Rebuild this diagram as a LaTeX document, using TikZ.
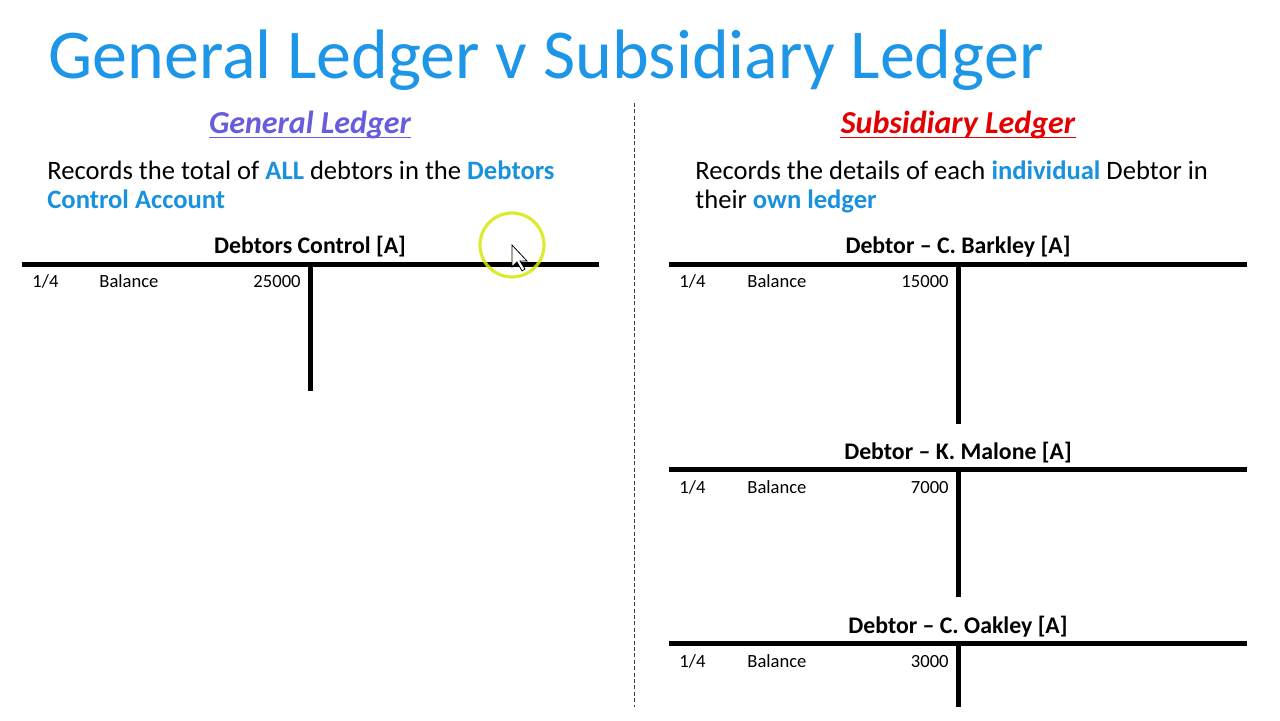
\documentclass[tikz,border=0pt]{standalone}
\usepackage{fontspec}
\setmainfont{Carlito}
\usepackage{xcolor}
\usetikzlibrary{positioning}
\definecolor{titleblue}{RGB}{30,150,232}
\definecolor{keyblue}{RGB}{25,145,222}
\definecolor{genpurple}{RGB}{104,92,222}
\definecolor{subred}{RGB}{228,0,0}

\begin{document}
\begin{tikzpicture}[x=0.5pt,y=-0.5pt,
  tline/.style={line width=2.5pt, black},
  acctitle/.style={font=\fontsize{11.9}{13}\selectfont\bfseries, anchor=base, inner sep=0pt},
  cell/.style={font=\fontsize{9.3}{11}\selectfont, anchor=base west, inner sep=0pt},
  amount/.style={font=\fontsize{9.3}{11}\selectfont, anchor=base east, inner sep=0pt},
  bodytext/.style={font=\fontsize{13.3}{15}\selectfont, anchor=base west, inner sep=0pt},
  sidehead/.style={font=\fontsize{16}{18}\selectfont\bfseries\itshape, anchor=base, inner sep=0pt}]
  \useasboundingbox[fill=white] (0,0) rectangle (1280,720);
  % Slide title
  \node[font=\fontsize{35}{38}\selectfont, text=titleblue, anchor=base west, inner sep=0pt]
    (title) at (48,78) {General Ledger v Subsidiary Ledger};
  % Divider between the two halves
  \coordinate (divtop) at (634,103);
  \coordinate (divbot) at (634,707);
  \draw[gray!50!black, line width=0.5pt, dash pattern=on 2pt off 1.2pt] (divtop) -- (divbot);
  % Left half: general ledger
  \node[sidehead, text=genpurple] (genhead) at (310,133) {General Ledger};
  \draw[genpurple, line width=0.9pt] ([yshift=-2.2pt]genhead.base west) -- ([yshift=-2.2pt]genhead.base east);
  \node[bodytext] (genline1) at (47,179)
    {Records the total of \textcolor{keyblue}{\bfseries ALL} debtors in the \textcolor{keyblue}{\bfseries Debtors}};
  \node[bodytext, text=keyblue, font=\fontsize{13.3}{15}\selectfont\bfseries] (genline2) at (47,208)
    {Control Account};
  % Debtors control T account
  \node[acctitle] (ctltitle) at (310,253) {Debtors Control [A]};
  \coordinate (ctlL) at (22,264);
  \coordinate (ctlR) at (599,264);
  \coordinate (ctlT) at (310,264);
  \coordinate (ctlB) at (310,391);
  \draw[tline] (ctlL) -- (ctlR);
  \draw[tline] (ctlT) -- (ctlB);
  \node[cell] (ctldate) at (32,287) {1/4};
  \node[cell] (ctldesc) at (99,287) {Balance};
  \node[amount] (ctlamt) at (301,287) {25000};
  % Right half: subsidiary ledger
  \node[sidehead, text=subred] (subhead) at (958,133) {Subsidiary Ledger};
  \draw[subred, line width=0.9pt] ([yshift=-2.2pt]subhead.base west) -- ([yshift=-2.2pt]subhead.base east);
  \node[bodytext] (subline1) at (695,179)
    {Records the details of each \textcolor{keyblue}{\bfseries individual} Debtor in};
  \node[bodytext] (subline2) at (695,208)
    {their \textcolor{keyblue}{\bfseries own ledger}};
  % C. Barkley
  \node[acctitle] (bartitle) at (958,253) {Debtor -- C. Barkley [A]};
  \coordinate (barL) at (669,264);
  \coordinate (barR) at (1247,264);
  \coordinate (barT) at (958,264);
  \coordinate (barB) at (958,424);
  \draw[tline] (barL) -- (barR);
  \draw[tline] (barT) -- (barB);
  \node[cell] (bardate) at (679,287) {1/4};
  \node[cell] (bardesc) at (747,287) {Balance};
  \node[amount] (baramt) at (949,287) {15000};
  % K. Malone
  \node[acctitle] (maltitle) at (958,459) {Debtor -- K. Malone [A]};
  \coordinate (malL) at (669,469);
  \coordinate (malR) at (1247,469);
  \coordinate (malT) at (958,469);
  \coordinate (malB) at (958,597);
  \draw[tline] (malL) -- (malR);
  \draw[tline] (malT) -- (malB);
  \node[cell] (maldate) at (679,493) {1/4};
  \node[cell] (maldesc) at (747,493) {Balance};
  \node[amount] (malamt) at (949,493) {7000};
  % C. Oakley
  \node[acctitle] (oaktitle) at (958,633) {Debtor -- C. Oakley [A]};
  \coordinate (oakL) at (669,643);
  \coordinate (oakR) at (1247,643);
  \coordinate (oakT) at (958,643);
  \coordinate (oakB) at (958,707);
  \draw[tline] (oakL) -- (oakR);
  \draw[tline] (oakT) -- (oakB);
  \node[cell] (oakdate) at (679,667) {1/4};
  \node[cell] (oakdesc) at (747,667) {Balance};
  \node[amount] (oakamt) at (949,667) {3000};
  % Pointer highlight
  \coordinate (ptr) at (512,245);
  \draw[yellow!85!green, line width=1.6pt, opacity=0.85] (ptr) circle (32);
  \draw[fill=white, line width=0.4pt] (ptr) -- ++(0,22) -- ++(5,-5) -- ++(5,9)
    -- ++(3,-2) -- ++(-5,-8) -- ++(7,0) -- cycle;
\end{tikzpicture}
\end{document}
